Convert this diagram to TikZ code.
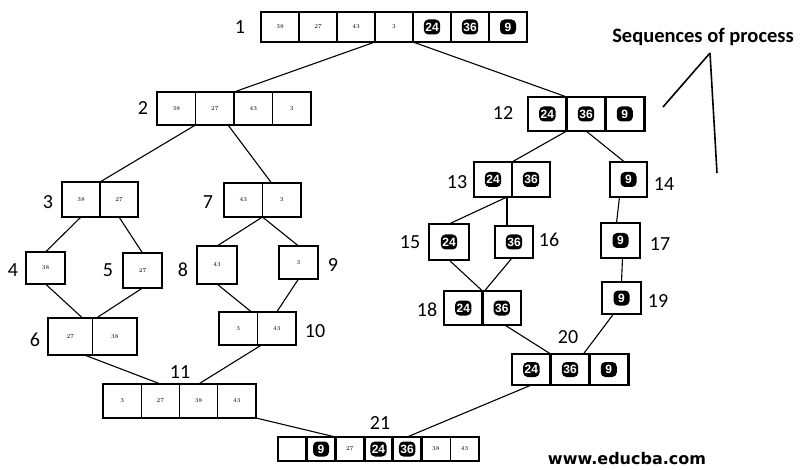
\documentclass[tikz,border=0pt]{standalone}
\usepackage{fontspec}
\newfontfamily\lblfont{Carlito}
\newfontfamily\badgefont{Liberation Sans}
\newfontfamily\webfont{DejaVu Sans}

\begin{document}
\begin{tikzpicture}[x=1pt, y=-1pt, line width=1.1pt,
  lc/.style={draw, line width=1.2pt, inner sep=0pt, outer sep=0pt, font=\fontsize{6}{6}\selectfont, node contents={#1}},
  hc/.style={draw, line width=2.8pt, inner sep=0pt, outer sep=0pt, label={[badge]center:#1}, node contents={}},
  badge/.style={fill=black, text=white, rounded corners=4.5pt, inner sep=1.5pt, minimum width=16pt, minimum height=15pt, font=\badgefont\bfseries\fontsize{12}{12}\selectfont},
  lbl/.style={font=\lblfont\fontsize{20}{20}\selectfont, inner sep=0pt}]
  \useasboundingbox (0,0) rectangle (808,470);

  % left half
  \foreach \k/\t [count=\i] in {lc/38, lc/27, lc/43, lc/3, hc/24, hc/36, hc/9}
    \node (n1-\i) at ({261+38*(\i-.5)},27) [\k=\t, minimum width=38, minimum height=30];
  \foreach \k/\t [count=\i] in {lc/38, lc/27, lc/43, lc/3}
    \node (n2-\i) at ({157+38.5*(\i-.5)},108.5) [\k=\t, minimum width=38.5, minimum height=33];
  \foreach \k/\t [count=\i] in {lc/38, lc/27}
    \node (n3-\i) at ({62+38*(\i-.5)},199.5) [\k=\t, minimum width=38, minimum height=35];
  \node (n4-1) at (45.5,268) [lc=38, minimum width=39, minimum height=32];
  \node (n5-1) at (142.5,270.5) [lc=27, minimum width=39, minimum height=35];
  \foreach \k/\t [count=\i] in {lc/27, lc/38}
    \node (n6-\i) at ({48+44.5*(\i-.5)},336.5) [\k=\t, minimum width=44.5, minimum height=37];
  \foreach \k/\t [count=\i] in {lc/43, lc/3}
    \node (n7-\i) at ({224+38.5*(\i-.5)},200) [\k=\t, minimum width=38.5, minimum height=34];
  \node (n8-1) at (217,265) [lc=43, minimum width=40, minimum height=38];
  \node (n9-1) at (298.5,262.5) [lc=3, minimum width=39, minimum height=33];
  \foreach \k/\t [count=\i] in {lc/3, lc/43}
    \node (n10-\i) at ({219+38.5*(\i-.5)},328.5) [\k=\t, minimum width=38.5, minimum height=33];
  \foreach \k/\t [count=\i] in {lc/3, lc/27, lc/38, lc/43}
    \node (n11-\i) at ({103+38.25*(\i-.5)},401) [\k=\t, minimum width=38.25, minimum height=34];

  % right half
  \foreach \k/\t [count=\i] in {hc/24, hc/36, hc/9}
    \node (n12-\i) at ({528+38.7*(\i-.5)},114) [\k=\t, minimum width=38.7, minimum height=34];
  \foreach \k/\t [count=\i] in {hc/24, hc/36}
    \node (n13-\i) at ({474+38*(\i-.5)},179.5) [\k=\t, minimum width=38, minimum height=35];
  \node (n14-1) at (628.5,179.5) [hc=9, minimum width=37, minimum height=35];
  \node (n15-1) at (449,242) [hc=24, minimum width=40, minimum height=36];
  \node (n16-1) at (514,242) [hc=36, minimum width=38, minimum height=32];
  \node (n17-1) at (620.5,240.5) [hc=9, minimum width=39, minimum height=35];
  \foreach \k/\t [count=\i] in {hc/24, hc/36}
    \node (n18-\i) at ({444+38.5*(\i-.5)},308) [\k=\t, minimum width=38.5, minimum height=34];
  \node (n19-1) at (621.5,298) [hc=9, minimum width=39, minimum height=32];
  \foreach \k/\t [count=\i] in {hc/24, hc/36, hc/9}
    \node (n20-\i) at ({512+38.7*(\i-.5)},369.5) [\k=\t, minimum width=38.7, minimum height=31];

  % final merge
  \foreach \k/\t [count=\i] in {lc/{}, hc/9, lc/27, hc/24, hc/36, lc/38, lc/43}
    \node (n21-\i) at ({278+28.7*(\i-.5)},449) [\k=\t, minimum width=28.7, minimum height=24];

  % step numbers
  \node[lbl] (l1) at (240,27) {1};
  \node[lbl] (l2) at (143,108) {2};
  \node[lbl] (l3) at (48,202) {3};
  \node[lbl] (l4) at (13,270) {4};
  \node[lbl] (l5) at (108,270) {5};
  \node[lbl] (l6) at (35,340) {6};
  \node[lbl] (l7) at (208,202) {7};
  \node[lbl] (l8) at (183,270) {8};
  \node[lbl] (l9) at (333,265) {9};
  \node[lbl] (l10) at (315,331) {10};
  \node[lbl] (l11) at (180,372) {11};
  \node[lbl] (l12) at (503,113) {12};
  \node[lbl] (l13) at (457,182) {13};
  \node[lbl] (l14) at (664,184) {14};
  \node[lbl] (l15) at (410,242) {15};
  \node[lbl] (l16) at (549,240) {16};
  \node[lbl] (l17) at (660,244) {17};
  \node[lbl] (l18) at (427,310) {18};
  \node[lbl] (l19) at (658,301) {19};
  \node[lbl] (l20) at (568,337) {20};
  \node[lbl] (l21) at (380,423) {21};

  % connectors
  \draw (n1-4.south west) -- (n2-2.north east);
  \draw (n1-5.south west) -- (n12-2.north west);
  \draw (n2-2.south west) -- (n3-2.north west);
  \draw ([xshift=-6pt]n2-2.south east) -- ([xshift=9pt]n7-2.north west);
  \draw (n3-1.south) -- (n4-1.north);
  \draw (n3-2.south) -- (n5-1.north);
  \draw (n4-1.south) -- ([xshift=-10pt]n6-1.north east);
  \draw (n5-1.south) -- ([xshift=4pt]n6-2.north west);
  \draw (n7-2.south west) -- (n8-1.north);
  \draw (n7-2.south west) -- (n9-1.north);
  \draw (n8-1.south) -- ([xshift=-6pt]n10-2.north west);
  \draw (n9-1.south) -- (n10-2.north);
  \draw ([xshift=-8pt]n6-1.south east) -- (n11-2.north);
  \draw ([xshift=4pt]n10-2.south west) -- (n11-3.north);
  \draw (n11-4.south east) -- (n21-3.north west);
  \draw (n20-1.south) -- (n21-5.north);
  \draw (n12-2.south west) -- (n13-2.north west);
  \draw (n12-2.south) -- ([xshift=-4pt]n14-1.north);
  \draw ([xshift=-5pt]n13-2.south west) -- (n15-1.north);
  \draw ([xshift=-5pt]n13-2.south west) -- ([xshift=-7pt]n16-1.north);
  \draw ([xshift=-9pt]n14-1.south) -- ([xshift=-4pt]n17-1.north);
  \draw ([xshift=2pt]n17-1.south) -- (n19-1.north);
  \draw (n15-1.south) -- (n18-2.north west);
  \draw ([xshift=-2pt]n16-1.south) -- ([xshift=2pt]n18-2.north west);
  \draw ([xshift=3pt]n18-2.south) -- (n20-2.north west);
  \draw ([xshift=-8pt]n19-1.south) -- ([xshift=-6pt]n20-2.north east);

  % caption
  \node[font=\lblfont\bfseries\fontsize{20.5}{20.5}\selectfont, inner sep=0pt] (title) at (703,37) {Sequences of process};
  \coordinate (t0) at (710,53);
  \coordinate (t1) at (663,107);
  \coordinate (t2) at (717,173);
  \draw[line width=1.6pt] (t0) -- (t1);
  \draw[line width=1.6pt] (t0) -- (t2);
  \node[font=\webfont\bfseries\fontsize{16}{16}\selectfont, inner sep=0pt] (web) at (627,459) {www.educba.com};
\end{tikzpicture}
\end{document}
